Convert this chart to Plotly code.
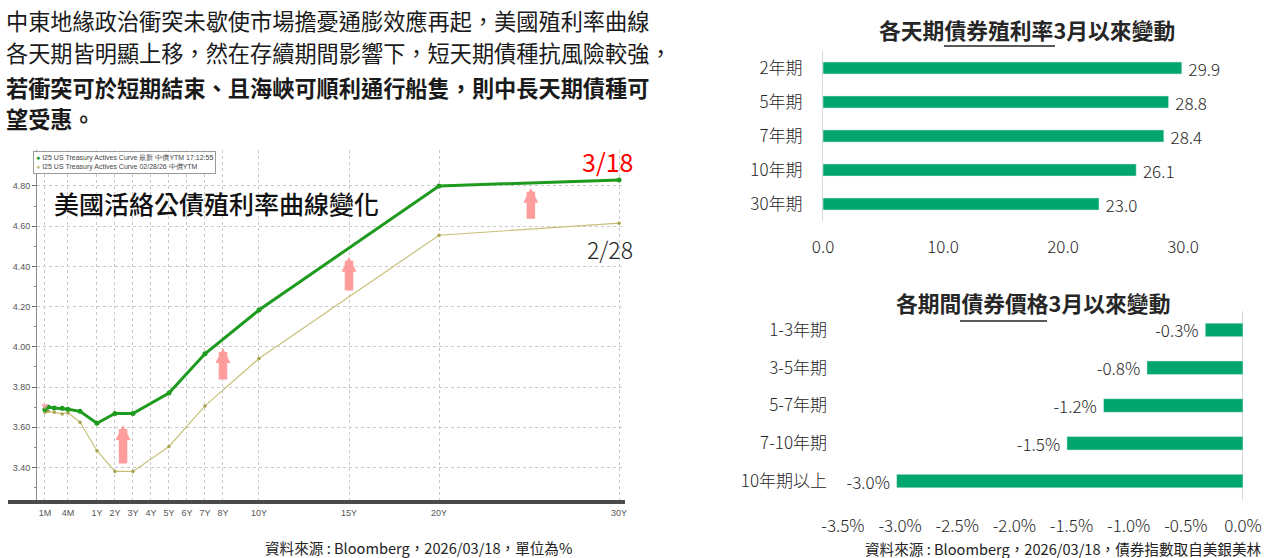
import plotly.graph_objects as go

W, H = 1270, 558
CJK = "Noto Sans CJK TC"
NARROW = "Liberation Sans Narrow, Liberation Sans, Arial"

# ---------------- data: US Treasury actives curve ----------------
tenor_labels = ["1M", "6W", "2M", "3M", "4M", "6M", "1Y", "2Y", "3Y", "5Y", "7Y", "10Y", "20Y", "30Y"]
tenor_axis_pos = [-1.89, -1.71, -1.37, -0.93, -0.61, 0.06, 1, 2, 3, 5, 7, 10, 20, 30]
yield_0318 = [3.688, 3.700, 3.696, 3.694, 3.689, 3.679, 3.620, 3.668, 3.668, 3.770, 3.965, 4.183, 4.800, 4.830]
yield_0228 = [3.674, 3.679, 3.674, 3.666, 3.672, 3.625, 3.483, 3.380, 3.380, 3.504, 3.706, 3.942, 4.555, 4.615]
curve_tick_labels = ["1M", "4M", "1Y", "2Y", "3Y", "4Y", "5Y", "6Y", "7Y", "8Y", "10Y", "15Y", "20Y", "30Y"]
curve_tick_pos = [-1.89, -0.61, 1, 2, 3, 4, 5, 6, 7, 8, 10, 15, 20, 30]

# arrows (tenor position, from yield, to yield)
arrow_pos = [2.45, 8.0, 15.0, 25.1]
arrow_from = [3.412, 3.830, 4.273, 4.630]
arrow_to = [3.611, 3.994, 4.447, 4.790]

# ---------------- data: yield change since March (bp) ----------------
tenor_cats = ["2年期", "5年期", "7年期", "10年期", "30年期"]
yield_change_bp = [29.9, 28.8, 28.4, 26.1, 23.0]
yield_ticks = [0, 10, 20, 30]

# ---------------- data: bond price change since March (%) ----------------
period_cats = ["1-3年期", "3-5年期", "5-7年期", "7-10年期", "10年期以上"]
price_change_pct = [-0.33, -0.84, -1.22, -1.54, -3.03]
price_ticks = [-3.5, -3.0, -2.5, -2.0, -1.5, -1.0, -0.5, 0.0]

GREEN_LINE = "#1E9B1E"
KHAKI = "#C8C07A"
BAR = "#00A66E"
TXT = "#262626"


def px(x):
    return x / W


def py(y):
    return 1 - y / H


fig = go.Figure()

# ---- left: curve chart ----
fig.add_trace(go.Scatter(
    x=tenor_axis_pos, y=yield_0228, mode="lines+markers",
    line=dict(color=KHAKI, width=1.2), marker=dict(size=3.5, color="#ABA350"),
    xaxis="x", yaxis="y", showlegend=False, hoverinfo="skip"))
fig.add_trace(go.Scatter(
    x=tenor_axis_pos, y=yield_0318, mode="lines+markers",
    line=dict(color=GREEN_LINE, width=3), marker=dict(size=5, color=GREEN_LINE),
    xaxis="x", yaxis="y", showlegend=False, hoverinfo="skip"))
fig.add_trace(go.Scatter(
    x=tenor_axis_pos[:1], y=[yield_0318[1] + 0.006], mode="markers",
    marker=dict(symbol="triangle-down", size=7, color="rgba(244,150,160,0.8)"),
    xaxis="x", yaxis="y", showlegend=False, hoverinfo="skip"))

# ---- top right: yield change ----
fig.add_trace(go.Bar(
    x=yield_change_bp, y=tenor_cats, orientation="h", width=0.355,
    marker=dict(color=BAR), xaxis="x2", yaxis="y2", showlegend=False,
    texttemplate="\u00a0%{x:.1f}", textposition="outside", cliponaxis=False,
    constraintext="none",
    textfont=dict(family=CJK, size=17, color=TXT, weight=300), hoverinfo="skip"))

# ---- bottom right: price change ----
fig.add_trace(go.Bar(
    x=price_change_pct, y=period_cats, orientation="h", width=0.358,
    marker=dict(color=BAR), xaxis="x3", yaxis="y3", showlegend=False,
    text=["%.1f%%\u00a0" % v for v in price_change_pct], textposition="outside",
    cliponaxis=False, constraintext="none",
    textfont=dict(family=CJK, size=17, color=TXT, weight=300), hoverinfo="skip"))

grid = dict(showgrid=True, gridcolor="#C9C9C9", griddash="dot", gridwidth=1)


def note(text, x, y, size, color="#222", weight=400, xanchor="center", yanchor="middle", **kw):
    d = dict(text=text, x=px(x), y=py(y), xref="paper", yref="paper",
             xanchor=xanchor, yanchor=yanchor, showarrow=False,
             font=dict(family=kw.pop("family", CJK), size=size, color=color, weight=weight))
    d.update(kw)
    return d


annotations = []
# paragraph
para = [
    ("中東地緣政治衝突未歇使市場擔憂通膨效應再起，美國殖利率曲線", False, 20),
    ("各天期皆明顯上移，然在存續期間影響下，短天期債種抗風險較強，", False, 52),
    ("若衝突可於短期結束、且海峽可順利通行船隻，則中長天期債種可", True, 87),
    ("望受惠。", True, 118),
]
for text, bold, yy in para:
    annotations.append(note(text, 4, yy, 22.2, color="#1a1a1a",
                            weight=700 if bold else 400, xanchor="left"))

# left chart decorations
annotations += [
    note("美國活絡公債殖利率曲線變化", 216, 203, 25, color="#111", weight=500),
    note("3/18", 607, 161, 25, color="#FF0000"),
    note("2/28", 610, 249, 23, color="#222", weight=300),
    note(('<span style="color:%s">●</span> I25 US Treasury Actives Curve 最新 中價YTM 17:12:55<br>'
          '<span style="color:%s">●</span> I25 US Treasury Actives Curve 02/28/26 中價YTM') % (GREEN_LINE, KHAKI),
         33, 151, 7, color="#444", xanchor="left", yanchor="top", family=NARROW,
         align="left", bgcolor="white", bordercolor="#9a9a9a", borderwidth=1, borderpad=2),
    note("資料來源 : Bloomberg，2026/03/18，單位為%", 418, 547, 14.6),
]
for xp, y0, y1 in zip(arrow_pos, arrow_from, arrow_to):
    annotations.append(dict(
        x=xp, y=y1, ax=xp, ay=y0, xref="x", yref="y", axref="x", ayref="y",
        showarrow=True, arrowhead=2, arrowsize=0.35, arrowwidth=8.5,
        arrowcolor="rgba(255,140,140,0.85)", text=""))

# right titles & sources
annotations += [
    note("各天期債券殖利率3月以來變動", 1027, 30, 21.8, color="#262626", weight=700),
    note("各期間債券價格3月以來變動", 1033, 302, 21.8, color="#262626", weight=700),
    note("資料來源 : Bloomberg，2026/03/18，債券指數取自美銀美林", 1063, 548, 14.6),
]

shapes = [
    dict(type="line", xref="paper", yref="paper", x0=px(944), x1=px(1055), y0=py(46), y1=py(46),
         line=dict(color="#222", width=1.3)),
    dict(type="line", xref="paper", yref="paper", x0=px(960), x1=px(1047), y0=py(321), y1=py(321),
         line=dict(color="#222", width=1.3)),
    dict(type="line", xref="paper", yref="paper", x0=px(8), x1=px(625), y0=py(502), y1=py(502),
         line=dict(color="#4a4a4a", width=4)),
]

fig.update_layout(
    width=W, height=H, autosize=False,
    margin=dict(l=0, r=0, t=0, b=0, pad=0),
    paper_bgcolor="white", plot_bgcolor="white",
    font=dict(family=CJK, color=TXT),
    annotations=annotations, shapes=shapes,
    xaxis=dict(domain=[px(37), px(625)], range=[-2.33, 30.33], anchor="y", automargin=False,
               tickmode="array", tickvals=curve_tick_pos, ticktext=curve_tick_labels,
               tickfont=dict(family=NARROW, size=9, color="#555"), ticks="",
               ticklabelstandoff=4, showline=False, zeroline=False, **grid),
    yaxis=dict(domain=[py(502), py(150)], range=[3.228, 4.979], anchor="x", automargin=False,
               tickmode="linear", tick0=3.4, dtick=0.2, tickformat=".2f",
               tickfont=dict(family=NARROW, size=9, color="#555"),
               ticks="outside", ticklen=4, tickcolor="#666",
               minor=dict(dtick=0.1, ticks="outside", ticklen=2, tickcolor="#888", showgrid=False),
               showline=True, linecolor="#8c8c8c", linewidth=1, zeroline=False, **grid),
    xaxis2=dict(domain=[px(823), px(1243)], range=[0, 35], anchor="y2", automargin=False,
                tickmode="array", tickvals=yield_ticks, ticktext=["%.1f" % v for v in yield_ticks],
                tickfont=dict(family=CJK, size=17, color=TXT, weight=300),
                showgrid=False, zeroline=False, showline=False, ticks="", ticklabelstandoff=14),
    yaxis2=dict(domain=[py(221), py(51)], range=[4.5, -0.5], anchor="x2", type="category",
                automargin=False, categoryorder="array", categoryarray=tenor_cats,
                tickfont=dict(family=CJK, size=17, color=TXT, weight=300),
                showgrid=False, zeroline=False, showline=True, linecolor="#D9D9D9", linewidth=1.2,
                ticks="", ticklabelstandoff=16),
    xaxis3=dict(domain=[px(830), px(1260)], range=[-3.613, 0.149], anchor="y3", automargin=False,
                tickmode="array", tickvals=price_ticks, ticktext=["%.1f%%" % v for v in price_ticks],
                tickfont=dict(family=CJK, size=17, color=TXT, weight=300),
                showgrid=False, zeroline=True, zerolinecolor="#D9D9D9", zerolinewidth=1.2,
                showline=False, ticks="", ticklabelstandoff=14),
    yaxis3=dict(domain=[py(500), py(311)], range=[4.5, -0.5], anchor="x3", type="category",
                automargin=False, categoryorder="array", categoryarray=period_cats,
                tickfont=dict(family=CJK, size=17, color=TXT, weight=300),
                showgrid=False, zeroline=False, showline=False, ticks="", ticklabelstandoff=2),
)

fig.write_html("out.html", config={"displayModeBar": False},
               post_script="document.body.style.margin='0';document.body.style.padding='0';"
                           "document.body.style.overflow='hidden';")
